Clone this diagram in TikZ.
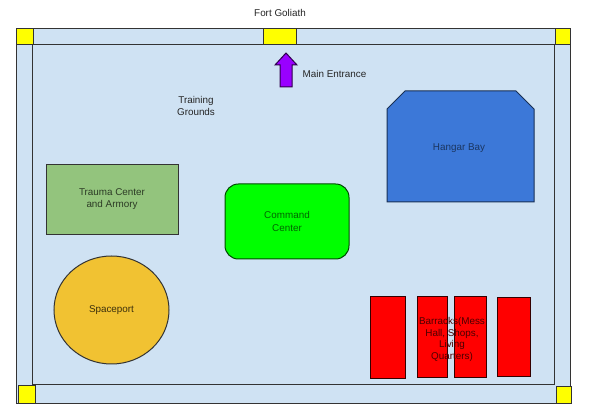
\documentclass[tikz,border=0pt]{standalone}
\usepackage{fontspec}
\setmainfont{Liberation Sans}
\usetikzlibrary{shapes.geometric}
\definecolor{lightblue}{HTML}{CFE2F3}
\definecolor{postyellow}{HTML}{FFFF00}
\definecolor{traumagreen}{HTML}{93C47D}
\definecolor{cmdgreen}{HTML}{00FF00}
\definecolor{hangarblue}{HTML}{3C78D8}
\definecolor{spaceyellow}{HTML}{F1C232}
\definecolor{barred}{HTML}{FF0000}
\definecolor{arrowpurple}{HTML}{9900FF}
\definecolor{edgegray}{HTML}{333333}
\begin{document}
\begin{tikzpicture}[x=0.75pt,y=-0.75pt,
  font=\fontsize{7.4}{9.1}\selectfont,
  frame/.style={draw=edgegray, fill=lightblue, line width=0.75pt},
  post/.style={draw=edgegray, fill=postyellow, line width=0.75pt},
  building/.style={draw=edgegray, line width=0.75pt, inner sep=0pt, align=center},
  barrack/.style={building, fill=barred, draw=black!80!red},
  label/.style={align=center, text=black!85}
]
\useasboundingbox (0,0) rectangle (600,420);
\fill[white] (0,0) rectangle (600,420);
% frame
\draw[frame] (16,29) rectangle (570,403);
\draw[frame] (32,45) rectangle (554,385);
% corner posts and gate
\draw[post] (16,29) rectangle (33,45);
\draw[post] (263,29) rectangle (296,45);
\draw[post] (555,29) rectangle (570,45);
\draw[post] (18,386) rectangle (35,403);
\draw[post] (556,387) rectangle (571,403);
% title
\node[label] (title) at (280,13) {Fort Goliath};
% entrance arrow
\draw[fill=arrowpurple, draw=black!70!arrowpurple, line width=0.75pt, line join=miter]
  (280,87) -- (280,65) -- (275,65) -- (286,53) -- (297,65) -- (292,65) -- (292,87) -- cycle;
\node[label, anchor=west] (entrance) at (298,74) {Main Entrance};
\node[label] (training) at (196,106) {Training\\Grounds};
% hangar
\draw[fill=hangarblue, draw=black!60!hangarblue, line width=0.75pt]
  (387,109) -- (405,91) -- (516,91) -- (534,109) -- (534,202) -- (387,202) -- cycle;
\node[label, text=black!55!hangarblue] (hangar) at (459,148) {Hangar Bay};
% trauma center
\node[building, fill=traumagreen, text=black!70!traumagreen,
  minimum width=99pt, minimum height=52.5pt] (trauma) at (112,199.5)
  {Trauma Center\\and Armory};
% command center
\node[building, fill=cmdgreen, draw=black!70!cmdgreen, text=black!60!cmdgreen,
  rounded corners=10pt, minimum width=93pt, minimum height=56.25pt] (command) at (287,221.5)
  {Command\\Center};
% spaceport
\node[building, ellipse, fill=spaceyellow, text=black!75!spaceyellow,
  minimum width=86.25pt, minimum height=81pt] (spaceport) at (111.5,310) {Spaceport};
% barracks
\node[barrack, minimum width=26.25pt, minimum height=61.5pt] (b1) at (387.5,338) {};
\node[barrack, minimum width=22.5pt, minimum height=60.75pt] (b2) at (432,337.5) {};
\node[barrack, minimum width=24pt, minimum height=60.75pt] (b3) at (470,337.5) {};
\node[barrack, minimum width=24.75pt, minimum height=59.25pt] (b4) at (513.5,337.5) {};
\node[label, text=black!70!barred, font=\fontsize{7.4}{8.8}\selectfont] (barracks) at (452,339.5)
  {Barracks(Mess\\Hall, Shops,\\Living\\Quarters)};
\end{tikzpicture}
\end{document}
